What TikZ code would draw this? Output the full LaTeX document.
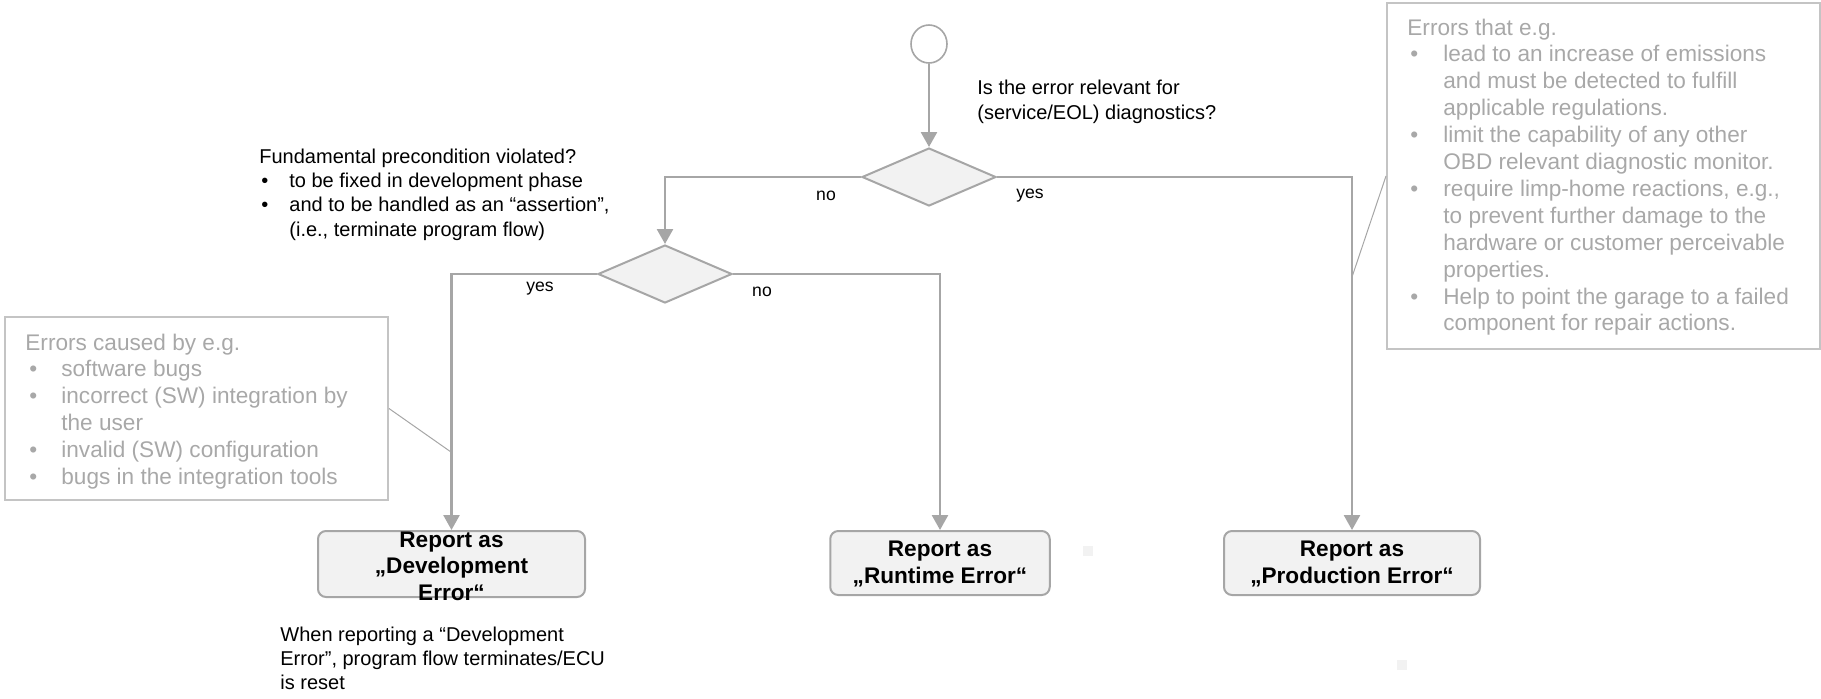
\documentclass[tikz,border=0pt]{standalone}
\usepackage{fontspec}
\setmainfont{Liberation Sans}
\usetikzlibrary{shapes.geometric,arrows.meta}
\definecolor{lgray}{HTML}{A6A6A6}
\definecolor{bfill}{HTML}{F2F2F2}
\definecolor{ngray}{HTML}{C4C4C4}
\definecolor{ntext}{HTML}{A8A8A8}
\begin{document}
\begin{tikzpicture}[x=0.5pt,y=-0.5pt,
  conn/.style={draw=lgray, line width=1.3pt, -{Triangle[length=7.5pt,width=8pt]}},
  dec/.style={diamond, draw=lgray, line width=1pt, fill=bfill, minimum width=67pt, minimum height=29pt, inner sep=0pt},
  repbox/.style={rectangle, rounded corners=4pt, draw=lgray, line width=1pt, fill=bfill, inner sep=0pt},
  reptext/.style={font=\fontsize{11.3}{13.3}\selectfont\bfseries, align=center, inner sep=0pt},
  note/.style={rectangle, draw=ngray, line width=1pt, inner sep=0pt},
  notetext/.style={font=\fontsize{11.3}{13.45}\selectfont, text=ntext, anchor=base west, inner sep=0pt},
  btext/.style={anchor=base west, inner sep=0pt},
  lbl/.style={font=\fontsize{8.8}{10}\selectfont, inner sep=0pt},
  callout/.style={draw=lgray, line width=0.5pt}
]
\useasboundingbox (0,0) rectangle (1821,698);

% small stray squares
\fill[bfill] (1083,546) rectangle (1093,556);
\fill[bfill] (1397,660) rectangle (1407,670);

% note boxes
\node[note, minimum width=191.5pt, minimum height=91.5pt] (lnote) at (196.5,408.5) {};
\node[note, minimum width=216.5pt, minimum height=173pt] (rnote) at (1603.5,176) {};

\node[notetext] (lnt) at (25,350) {\begin{tabular}[t]{@{}p{18pt}@{}l@{}}
\multicolumn{2}{@{}l@{}}{Errors caused by e.g.}\\
\hspace{2pt}• & software bugs\\
\hspace{2pt}• & incorrect (SW) integration by\\
 & the user\\
\hspace{2pt}• & invalid (SW) configuration\\
\hspace{2pt}• & bugs in the integration tools
\end{tabular}};

\node[notetext] (rnt) at (1407,35) {\begin{tabular}[t]{@{}p{18pt}@{}l@{}}
\multicolumn{2}{@{}l@{}}{Errors that e.g.}\\
\hspace{1.5pt}• & lead to an increase of emissions\\
 & and must be detected to fulfill\\
 & applicable regulations.\\
\hspace{1.5pt}• & limit the capability of any other\\
 & OBD relevant diagnostic monitor.\\
\hspace{1.5pt}• & require limp-home reactions, e.g.,\\
 & to prevent further damage to the\\
 & hardware or customer perceivable\\
 & properties.\\
\hspace{1.5pt}• & Help to point the garage to a failed\\
 & component for repair actions.
\end{tabular}};

% flow nodes
\node[ellipse, draw=lgray, line width=0.8pt, minimum width=18pt, minimum height=19pt, inner sep=0pt] (start) at (929,44) {};
\node[dec] (d1) at (929,177) {};
\node[dec] (d2) at (665,274) {};
\node[repbox, minimum width=133.5pt, minimum height=33pt] (dev) at (451.5,564) {};
\node[repbox, minimum width=109.75pt, minimum height=32pt] (run) at (940,563) {};
\node[repbox, minimum width=128pt, minimum height=32pt] (prod) at (1352,563) {};

\node[reptext] (devt) at (451.5,566) {Report as\\„Development\\Error“};
\node[reptext] (runt) at (940,564) {Report as\\„Runtime Error“};
\node[reptext] (prodt) at (1352,564) {Report as\\„Production Error“};

% connectors
\draw[conn] (start.south) -- (d1.north);
\draw[conn] (d1.west) -| (d2.north);
\draw[conn] (d1.east) -| (prod.north);
\draw[conn] (d2.west) -| (dev.north);
\draw[conn] (d2.east) -| (run.north);

% callout lines
\coordinate (lc) at (451,452);
\coordinate (rc) at (1352,277);
\draw[callout] (lnote.east) -- (lc);
\draw[callout] (rnote.west) -- (rc);

% labels
\node[lbl] (l1) at (826,196) {no};
\node[lbl] (l2) at (1030,196) {yes};
\node[lbl] (l3) at (540,289) {yes};
\node[lbl] (l4) at (762,292) {no};

% texts
\node[btext, font=\fontsize{10}{12.5}\selectfont] (q1) at (977,94) {\begin{tabular}[t]{@{}l@{}}Is the error relevant for\\(service/EOL) diagnostics?\end{tabular}};
\node[btext, font=\fontsize{10}{12.2}\selectfont] (q2) at (259,163) {\begin{tabular}[t]{@{}p{15pt}@{}l@{}}
\multicolumn{2}{@{}l@{}}{Fundamental precondition violated?}\\
\hspace{1pt}• & to be fixed in development phase\\
\hspace{1pt}• & and to be handled as an “assertion”,\\
 & (i.e., terminate program flow)
\end{tabular}};
\node[btext, font=\fontsize{10}{12}\selectfont] (q3) at (280,641) {\begin{tabular}[t]{@{}l@{}}When reporting a “Development\\Error”, program flow terminates/ECU\\is reset\end{tabular}};
\end{tikzpicture}
\end{document}
